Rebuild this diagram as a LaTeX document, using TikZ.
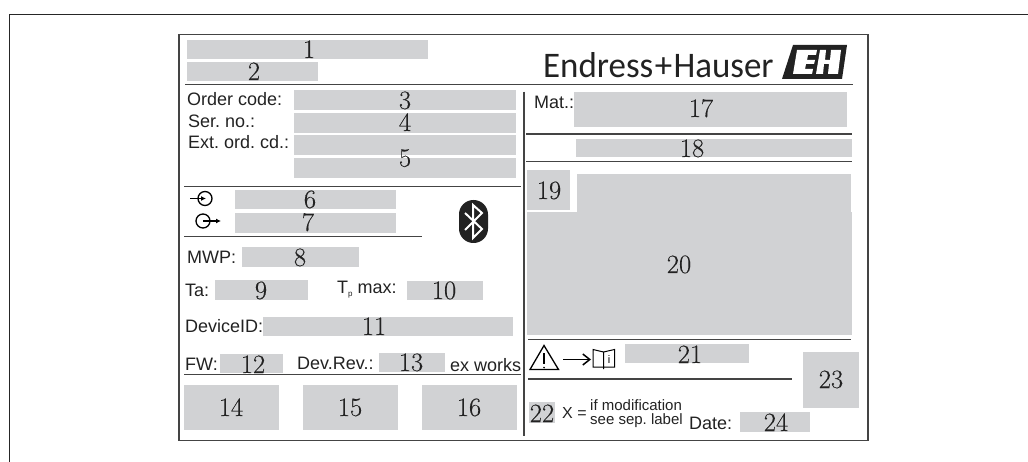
\documentclass[tikz,border=0pt]{standalone}
\usepackage{fontspec}
\setmainfont{Liberation Sans}
\newfontfamily\logofont{Carlito}
\newfontfamily\numfont[FakeBold=0.25]{Latin Modern Roman}
\usetikzlibrary{arrows.meta}
\definecolor{plate}{HTML}{D1D2D4}
\definecolor{ink}{HTML}{222222}
\definecolor{rulegray}{HTML}{444444}
\tikzset{
  x=1pt,y=-1pt,
  graybox/.style={fill=plate,draw=none},
  num/.style={anchor=base,inner sep=0pt,text=ink,text height=17pt,text depth=0pt,font=\numfont\fontsize{26.5}{26.5}\selectfont},
  lab/.style={anchor=base west,inner sep=0pt,text=ink,font=\frenchspacing\fontsize{18}{18}\selectfont},
  smalllab/.style={anchor=base west,inner sep=0pt,text=ink,font=\frenchspacing\fontsize{15}{15}\selectfont},
  frameline/.style={draw=rulegray,line width=1.6pt},
  divider/.style={draw=rulegray,line width=1.4pt},
  iconline/.style={draw=black,line width=1.3pt},
}
\newcommand{\plate}[4]{\path[graybox] (#1,#2) rectangle (#3,#4);}
\begin{document}
\begin{tikzpicture}
\useasboundingbox (0,0) rectangle (1028,462);
% outer frame
\draw[frameline,draw=black!85] (9.5,462) -- (9.5,14.5) -- (1028,14.5);
% inner frame
\draw[frameline] (179,34.5) rectangle (868,440.5);
% gray plates
\plate{187}{40}{428}{59}
\plate{187}{62}{318}{81}
\plate{294}{90}{516}{110}
\plate{294}{113}{516}{132.7}
\plate{294}{135}{516}{155}
\plate{294}{158}{516}{177.7}
\plate{235}{190}{396}{209.3}
\plate{235}{213}{396}{232.7}
\plate{242}{247}{359}{266.7}
\plate{215}{280}{308}{300}
\plate{407}{281}{483}{300}
\plate{263}{317}{513}{336}
\plate{220}{354}{283}{373}
\plate{379}{353}{445}{372}
\plate{184}{385}{279}{430}
\plate{303}{385}{398}{430}
\plate{422}{385}{517}{430}
\plate{574}{92}{847}{127}
\plate{576}{139}{852}{157}
\plate{527}{170}{570}{210}
\plate{577}{174}{851}{213}
\plate{527}{212}{852}{335}
\plate{625}{344}{749}{363}
\plate{803}{352}{859}{408}
\plate{529}{402}{555}{423}
\plate{740}{412}{810}{432}
% dividers
\draw[divider] (185,84.5) -- (853,84.5);
\draw[divider] (184,186.7) -- (521,186.7);
\draw[divider] (184,236.7) -- (421.7,236.7);
\draw[divider] (184,374.3) -- (521,374.3);
\draw[divider] (524,91.7) -- (524,436);
\draw[divider] (526,134) -- (851.7,134);
\draw[divider] (526,161.7) -- (851.7,161.7);
\draw[divider] (528,339.7) -- (851,339.7);
\draw[divider] (528,379) -- (792,379);
% numbers
\node[num] (n1) at (309,58) {1};
\node[num] (n2) at (254,80) {2};
\node[num] (n3) at (405,109) {3};
\node[num] (n4) at (405,131) {4};
\node[num] (n5) at (405,166.7) {5};
\node[num] (n6) at (310,208) {6};
\node[num] (n7) at (308,231) {7};
\node[num] (n8) at (300,266) {8};
\node[num] (n9) at (261,299) {9};
\node[num] (n10) at (444,299) {10};
\node[num] (n11) at (374,335) {11};
\node[num] (n12) at (253,373) {12};
\node[num] (n13) at (411,371) {13};
\node[num] (n14) at (231,416) {14};
\node[num] (n15) at (350,416) {15};
\node[num] (n16) at (469,416) {16};
\node[num] (n17) at (701,117) {17};
\node[num] (n18) at (692,157) {18};
\node[num] (n19) at (549,199) {19};
\node[num] (n20) at (679,273) {20};
\node[num] (n21) at (690,363) {21};
\node[num] (n22) at (542,422) {22};
\node[num] (n23) at (831,388) {23};
\node[num] (n24) at (776,431) {24};
% labels
\node[lab] (order) at (187,106) {Order code:};
\node[lab] (ser) at (188,128) {Ser. no.:};
\node[lab] (ext) at (188,149) {Ext. ord. cd.:};
\node[lab] (mwp) at (187,264) {MWP:};
\node[lab] (ta) at (185,297) {Ta:};
\node[lab] (tp) at (337,294) {T\raisebox{-3pt}{\fontsize{8}{8}\selectfont p} max:};
\node[lab] (devid) at (185,332) {DeviceID:};
\node[lab] (fw) at (185,370) {FW:};
\node[lab] (devrev) at (297,369) {Dev.Rev.:};
\node[lab] (works) at (450,371) {ex works};
\node[lab] (mat) at (534,109) {Mat.:};
\node[smalllab,font=\fontsize{16}{16}\selectfont] (xeq) at (562,418) {X =};
\node[smalllab] (ifmod) at (590,410) {if modification};
\node[smalllab] (seesep) at (590,424) {see sep. label};
\node[lab] (date) at (689,429) {Date:};
% brand
\node[anchor=base west,inner sep=0pt,text=ink] (brand) at (543,78) {\scalebox{0.97}[1]{\logofont\fontsize{36}{36}\selectfont Endress\kern1.5pt+\kern1.5pt Hauser}};
\path[fill=ink] (793,45) -- (847,45) -- (842,79) -- (782,79) -- cycle;
\path[fill=white] (797,50) -- (817,50) -- (816,55) -- (808,55) -- (807,60) -- (815,60) -- (814,64) -- (806,64) -- (805,69) -- (813,69) -- (812,74) -- (793,74) -- cycle;
\path[fill=white] (820,50) -- (826,50) -- (825,60) -- (830,60) -- (831,50) -- (841,50) -- (838,74) -- (828,74) -- (829,64) -- (824,64) -- (823,74) -- (816,74) -- cycle;
% power in / out icons
\draw[iconline] (205,198.5) circle (7);
\draw[iconline,-{Latex[length=5pt,width=5pt]}] (190,198.5) -- (206,198.5);
\draw[iconline] (203,221) circle (7);
\draw[iconline,-{Latex[length=5pt,width=5pt]}] (203,221) -- (221,221);
% bluetooth
\path[fill=ink,rounded corners=14.4pt] (459,200) rectangle (488,243);
\draw[white,line width=2pt,line join=miter] (465,213) -- (482,229) -- (473,238) -- (473,205) -- (482,213) -- (465,230);
% warning, arrow, book
\draw[iconline,line join=miter] (544,345.5) -- (558.5,369.5) -- (530,369.5) -- cycle;
\draw[iconline] (544,353) -- (544,364);
\fill (544,367.6) circle (0.9);
\draw[iconline,line width=1.5pt,-{Straight Barb[length=7pt,width=11pt]}] (563,359.5) -- (591,359.5);
\draw[iconline,line width=1pt] (603.5,352) -- (593,349.5) -- (593,367) -- (603.5,367) -- (614.5,367) -- (614.5,349.5) -- (603.5,352) -- (603.5,369);
\node[anchor=base,inner sep=0pt,font=\fontsize{11}{11}\selectfont] (bookmark) at (609,363) {i};
\end{tikzpicture}
\end{document}
